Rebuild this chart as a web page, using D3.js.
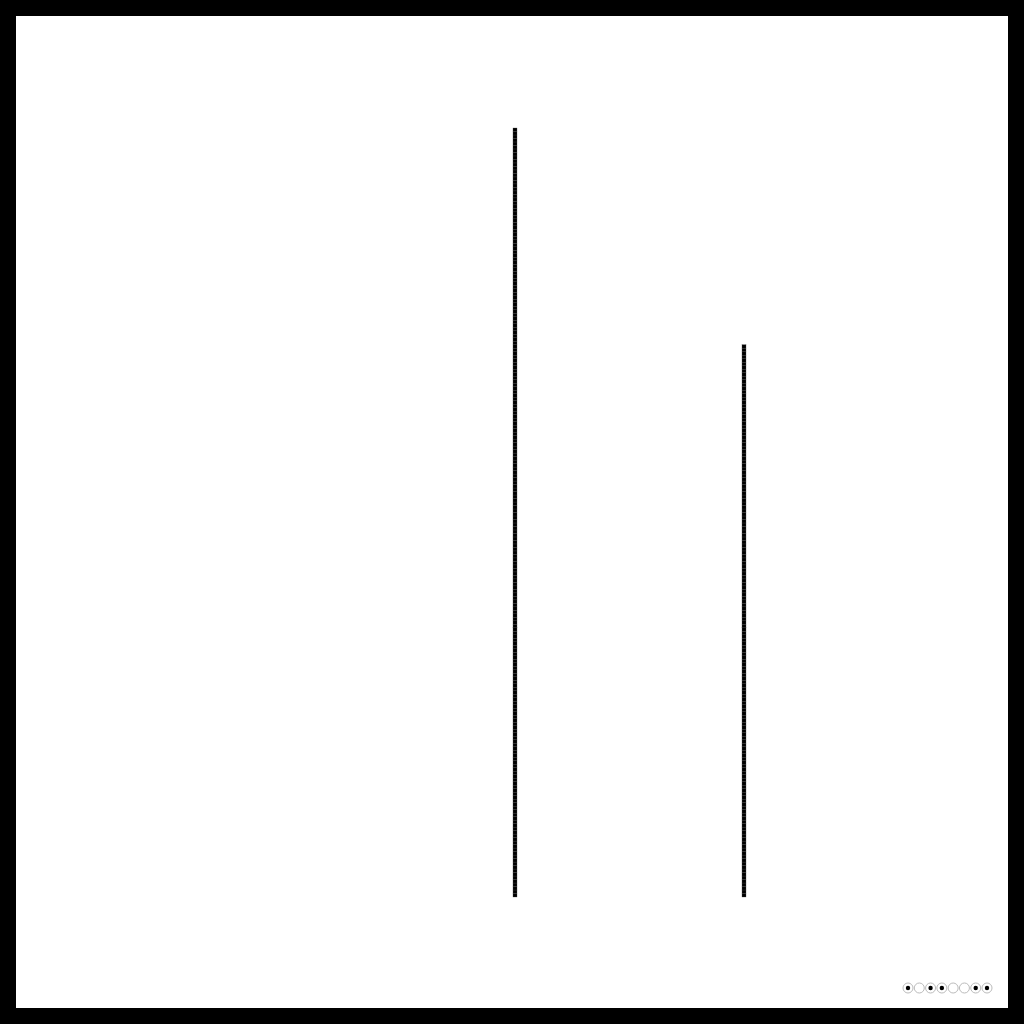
<!DOCTYPE html>
<html>
<head>
<meta charset="utf-8">
<script src="https://cdn.jsdelivr.net/npm/d3@7"></script>
<style>
  html, body { margin: 0; padding: 0; background: #000; }
  svg { display: block; }
</style>
</head>
<body>
<div id="chart"></div>
<script>
// bar categories and their heights (in stacked unit blocks)
var categories = ["A", "B"];
var values = [220, 158];
// page indicator dots, 1 = filled
var dots = [1, 0, 1, 1, 0, 0, 1, 1];

document.addEventListener("DOMContentLoaded", function(){
    var W = 1024, H = 1024, border = 16;

    var svg = d3.select("#chart")
      .append("svg")
        .attr("width", W)
        .attr("height", H);

    // black frame + white canvas
    svg.append("rect").attr("width", W).attr("height", H).attr("fill", "#000");
    svg.append("rect")
        .attr("x", border).attr("y", border)
        .attr("width", W - 2 * border).attr("height", H - 2 * border)
        .attr("fill", "#fff");

    var x = d3.scaleBand()
        .domain(categories)
        .range([400.5, 858.5]);

    var y = d3.scaleLinear()
        .domain([0, d3.max(values)])
        .range([897, 128]);

    var barW = 4;

    // each bar is a stack of unit blocks
    var bars = svg.selectAll(".bar")
      .data(categories.map(function(c, i){ return { cat: c, val: values[i] }; }))
      .enter().append("g")
        .attr("class", "bar")
        .attr("transform", function(d){ return "translate(" + (x(d.cat) + x.bandwidth() / 2 - barW / 2) + ",0)"; });

    bars.selectAll("rect")
      .data(function(d){ return d3.range(d.val); })
      .enter().append("rect")
        .attr("x", 0)
        .attr("y", function(k){ return y(k + 1); })
        .attr("width", barW)
        .attr("height", function(k){ return y(k) - y(k + 1); })
        .attr("fill", "#000")
        .attr("stroke", "#444")
        .attr("stroke-width", 0.3);

    // dot indicator bottom right
    var dx = d3.scaleLinear().domain([0, dots.length - 1]).range([908, 987]);
    var g = svg.append("g");
    g.selectAll("circle.ring")
      .data(dots)
      .enter().append("circle")
        .attr("class", "ring")
        .attr("cx", function(d, i){ return dx(i); })
        .attr("cy", 988)
        .attr("r", 5)
        .attr("fill", "#fff")
        .attr("stroke", "#bbb")
        .attr("stroke-width", 1);
    g.selectAll("circle.dot")
      .data(dots)
      .enter().append("circle")
        .attr("class", "dot")
        .attr("cx", function(d, i){ return dx(i); })
        .attr("cy", 988)
        .attr("r", function(d){ return d ? 2.2 : 0; })
        .attr("fill", "#000");
});
</script>
</body>
</html>
